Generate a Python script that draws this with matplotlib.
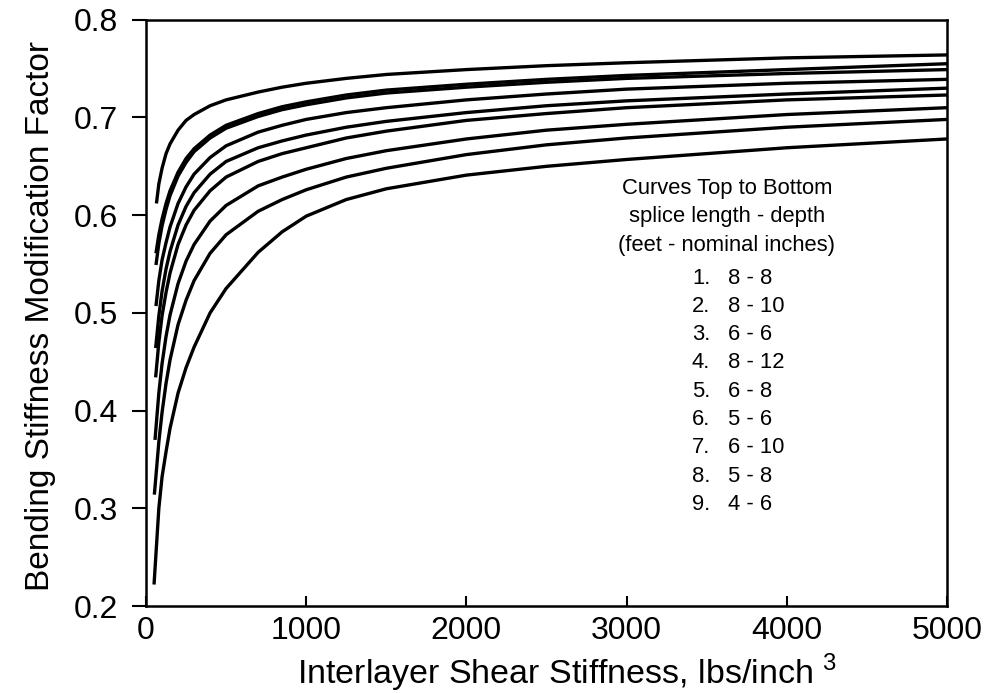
import matplotlib
matplotlib.use("Agg")
import matplotlib.pyplot as plt

plt.rcParams['font.family'] = ['Liberation Sans', 'DejaVu Sans']
plt.rcParams['mathtext.fontset'] = 'custom'
plt.rcParams['mathtext.rm'] = 'Liberation Sans'

# shear stiffness values (first point differs per curve)
start_x = [65, 62, 62, 62, 60, 60, 56, 52, 50]
grid_x = [80, 100, 125, 150, 200, 250, 300, 400, 500, 700, 850, 1000,
          1250, 1500, 2000, 2500, 3000, 4000, 5000]

# bending stiffness modification factor, curves top to bottom
curve_1 = [0.612, 0.632, 0.648, 0.663, 0.673, 0.687, 0.697, 0.703, 0.712, 0.718, 0.726,
           0.731, 0.735, 0.740, 0.744, 0.749, 0.753, 0.756, 0.761, 0.764]
curve_2 = [0.561, 0.580, 0.596, 0.612, 0.625, 0.644, 0.658, 0.668, 0.682, 0.692, 0.704,
           0.711, 0.716, 0.723, 0.728, 0.734, 0.739, 0.743, 0.749, 0.755]
curve_3 = [0.549, 0.571, 0.589, 0.606, 0.620, 0.640, 0.654, 0.665, 0.679, 0.689, 0.701,
           0.708, 0.713, 0.720, 0.725, 0.731, 0.736, 0.740, 0.745, 0.749]
curve_4 = [0.507, 0.533, 0.554, 0.572, 0.588, 0.612, 0.629, 0.642, 0.659, 0.671, 0.685,
           0.692, 0.698, 0.705, 0.710, 0.718, 0.724, 0.729, 0.735, 0.739]
curve_5 = [0.464, 0.497, 0.522, 0.545, 0.563, 0.590, 0.609, 0.623, 0.642, 0.655, 0.669,
           0.676, 0.682, 0.690, 0.696, 0.705, 0.712, 0.717, 0.724, 0.730]
curve_6 = [0.434, 0.470, 0.497, 0.521, 0.541, 0.570, 0.590, 0.605, 0.625, 0.639, 0.655,
           0.663, 0.669, 0.679, 0.686, 0.697, 0.704, 0.710, 0.718, 0.723]
curve_7 = [0.370, 0.418, 0.448, 0.476, 0.498, 0.530, 0.553, 0.570, 0.594, 0.610, 0.630,
           0.639, 0.647, 0.658, 0.666, 0.678, 0.687, 0.693, 0.703, 0.710]
curve_8 = [0.314, 0.368, 0.398, 0.428, 0.452, 0.488, 0.513, 0.533, 0.561, 0.580, 0.604,
           0.616, 0.626, 0.639, 0.648, 0.662, 0.672, 0.679, 0.690, 0.698]
curve_9 = [0.222, 0.300, 0.332, 0.358, 0.382, 0.418, 0.444, 0.465, 0.500, 0.525, 0.562,
           0.583, 0.599, 0.616, 0.627, 0.641, 0.650, 0.657, 0.669, 0.678]
curves = [curve_1, curve_2, curve_3, curve_4, curve_5, curve_6, curve_7, curve_8, curve_9]

legend_title = ["Curves Top to Bottom", "splice length - depth", "(feet - nominal inches)"]
legend_nums = ["1.", "2.", "3.", "4.", "5.", "6.", "7.", "8.", "9."]
legend_labels = ["8 - 8", "8 - 10", "6 - 6", "8 - 12", "6 - 8", "5 - 6", "6 - 10", "5 - 8", "4 - 6"]

fig = plt.figure(figsize=(9.84, 6.93), dpi=100)
ax = fig.add_axes([0.1484, 0.1255, 0.814, 0.846])

for x0, ys in zip(start_x, curves):
    ax.plot([x0] + grid_x, ys, color='black', lw=2.4, solid_capstyle='butt',
            solid_joinstyle='round')

ax.set_xlim(0, 5000)
ax.set_ylim(0.2, 0.8)
ax.set_xticks([0, 1000, 2000, 3000, 4000, 5000])
ax.set_yticks([0.2, 0.3, 0.4, 0.5, 0.6, 0.7, 0.8])
ax.set_yticklabels(["0.2", "0.3", "0.4", "0.5", "0.6", "0.7", "0.8"])
ax.tick_params(axis='x', direction='in', length=7, width=1.5, labelsize=23, pad=7)
ax.tick_params(axis='y', direction='out', length=10, width=1.5, labelsize=23, pad=10)
for s in ax.spines.values():
    s.set_linewidth(1.8)

ax.set_xlabel(r"Interlayer Shear Stiffness, lbs/inch $^{\mathrm{3}}$", fontsize=24.5)
ax.xaxis.set_label_coords(0.526, -0.078)
ax.set_ylabel("Bending Stiffness Modification Factor", fontsize=24)
ax.yaxis.set_label_coords(-0.112, 0.495)

# text block, pixel positions converted to figure fractions
W, H = 984, 693
for i, t in enumerate(legend_title):
    fig.text(727 / W, 1 - (188 + 28.5 * i) / H, t, ha='center', va='center', fontsize=15.8)
for i, (n, t) in enumerate(zip(legend_nums, legend_labels)):
    y = 1 - (278 + 28.3 * i) / H
    fig.text(692 / W, y, n, ha='left', va='center', fontsize=15.8)
    fig.text(728 / W, y, t, ha='left', va='center', fontsize=15.8)

fig.savefig("out.png", dpi=100)
